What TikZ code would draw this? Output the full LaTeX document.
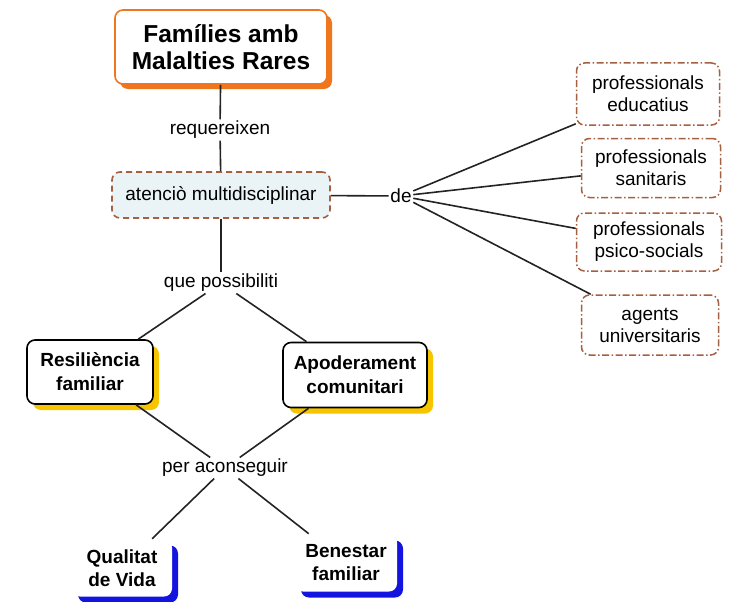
\documentclass[tikz,border=0pt]{standalone}
\usepackage{fontspec}
\setmainfont{Liberation Sans}
\usetikzlibrary{shadows}

\definecolor{famorange}{RGB}{240,118,30}
\definecolor{linkbrown}{RGB}{165,95,65}
\definecolor{hubblue}{RGB}{234,243,246}
\definecolor{resyellow}{RGB}{247,196,0}
\definecolor{goalblue}{RGB}{20,20,225}
\definecolor{lineg}{RGB}{35,35,35}

\tikzset{
  concept/.style={rounded corners=8pt, align=center, fill=white, inner sep=2pt, line width=1.6pt},
  mainbox/.style={concept, draw=famorange, line width=1.6pt,
    font=\fontsize{24.5}{27}\selectfont\bfseries,
    drop shadow={shadow xshift=5pt, shadow yshift=-5pt, fill=famorange, opacity=1}},
  hubbox/.style={concept, draw=linkbrown, fill=hubblue, line width=1.6pt,
    dash pattern=on 6pt off 4pt, font=\fontsize{19}{22}\selectfont},
  agentbox/.style={concept, draw=linkbrown, line width=1.5pt,
    dash pattern=on 7pt off 2.5pt on 1.5pt off 2.5pt, font=\fontsize{19}{22}\selectfont},
  resbox/.style={concept, draw=black, font=\fontsize{19}{24}\selectfont\bfseries,
    drop shadow={shadow xshift=6pt, shadow yshift=-6pt, fill=resyellow, opacity=1}},
  goalbox/.style={concept, draw=none, font=\fontsize{19}{23}\selectfont\bfseries,
    drop shadow={shadow xshift=6pt, shadow yshift=-6pt, fill=goalblue, opacity=1}},
  linklabel/.style={fill=white, inner sep=1.5pt, font=\fontsize{19}{22}\selectfont},
  connector/.style={draw=lineg, line width=1.6pt}
}

\begin{document}
\begin{tikzpicture}[x=1pt,y=-1pt]
\useasboundingbox (0,0) rectangle (731,602);
%title
\path (221,47) node[mainbox, minimum width=212pt, minimum height=74pt] (fam) {Famílies amb\\Malalties Rares};
\path (220,130) node[linklabel] (req) {requereixen};
%hub
\path (221,195) node[hubbox, minimum width=218pt, minimum height=46pt] (aten) {atenciò multidisciplinar};
\path (401,196) node[linklabel] (de) {de};
%agents
\path (648,94) node[agentbox, minimum width=143pt, minimum height=62pt] (educ) {professionals\\educatius};
\path (651,168) node[agentbox, minimum width=139pt, minimum height=59pt] (sanit) {professionals\\sanitaris};
\path (649,242) node[agentbox, minimum width=145pt, minimum height=58pt] (psico) {professionals\\psico-socials};
\path (650,325) node[agentbox, minimum width=137pt, minimum height=60pt] (univ) {agents\\universitaris};
%middle
\path (221,283) node[linklabel] (poss) {que possibiliti};
\path (90,372) node[resbox, minimum width=126pt, minimum height=64pt] (resil) {Resiliència\\familiar};
\path (355,375) node[resbox, minimum width=144pt, minimum height=65pt] (apod) {Apoderament\\comunitari};
%goals
\path (225,468) node[linklabel] (acons) {per aconseguir};
\path (122,568) node[goalbox, minimum width=100pt, minimum height=57pt] (qual) {Qualitat\\de Vida};
\path (346,563) node[goalbox, minimum width=102pt, minimum height=57pt] (benes) {Benestar\\familiar};
%links
\draw[connector] (fam) -- (req);
\draw[connector] (req) -- (aten);
\draw[connector] (aten) -- (de);
\foreach \target in {educ,sanit,psico,univ}
  \draw[connector] (de) -- (\target);
\draw[connector] (aten) -- (poss);
\draw[connector] (poss) -- (resil);
\draw[connector] (poss) -- (apod);
\draw[connector] (resil) -- (acons);
\draw[connector] (apod) -- (acons);
\draw[connector] (acons) -- (qual);
\draw[connector] (acons) -- (benes);
\end{tikzpicture}
\end{document}
